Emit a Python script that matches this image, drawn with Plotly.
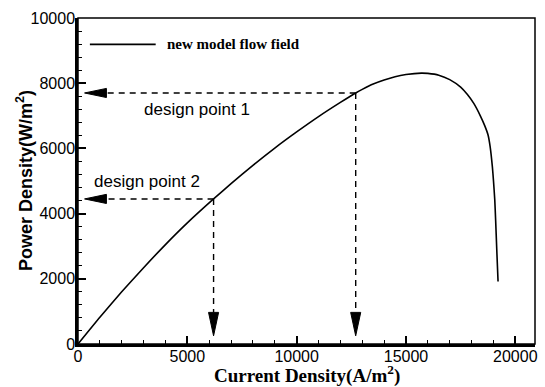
import plotly.graph_objects as go

# Power density curve for the new flow-field model
current_density = [0, 1000, 2000, 3000, 4000, 5000, 6200, 7000, 8000, 9000,
                   10000, 11000, 12000, 12700, 13000, 13500, 14000, 14500,
                   15000, 15700, 16000, 16500, 17000, 17500, 17800, 18100,
                   18400, 18600, 18750, 18850, 18950, 19000, 19060, 19100,
                   19150, 19210]
power_density = [0, 820, 1600, 2340, 3050, 3715, 4450, 4920, 5480, 6010,
                 6505, 6975, 7410, 7700, 7810, 7975, 8100, 8200,
                 8265, 8310, 8300, 8245, 8110, 7880, 7660, 7380,
                 7000, 6700, 6420, 6050, 5440, 5020, 4420, 3800,
                 2920, 1920]

# Operating (design) points marked on the curve
design_labels = ["design point 1", "design point 2"]
design_x = [12700, 6200]
design_y = [7700, 4450]
label_x = [5450, 3150]
label_y = [7180, 4970]

x_ticks = [0, 5000, 10000, 15000, 20000]
y_ticks = [0, 2000, 4000, 6000, 8000, 10000]

X_MAX, Y_MAX = 20900, 10000

# arrowhead geometry (data units)
H_TIP_X, H_LEN, H_HALF = 300, 1000, 140
V_TIP_Y, V_LEN, V_HALF = 250, 720, 230

SANS = "Liberation Sans, Arial, sans-serif"
SERIF = "Liberation Serif, Times New Roman, serif"
DASH = "6px,5px"

fig = go.Figure()

fig.add_trace(go.Scatter(
    x=current_density, y=power_density, mode="lines",
    line=dict(color="black", width=1.6, shape="spline", smoothing=0.5),
    hoverinfo="skip", showlegend=False))

for dx, dy in zip(design_x, design_y):
    # horizontal dashed leader towards the power axis
    fig.add_trace(go.Scatter(
        x=[dx, H_TIP_X + H_LEN], y=[dy, dy], mode="lines",
        line=dict(color="black", width=1.4, dash=DASH),
        hoverinfo="skip", showlegend=False))
    fig.add_trace(go.Scatter(
        x=[H_TIP_X, H_TIP_X + H_LEN, H_TIP_X + H_LEN, H_TIP_X],
        y=[dy, dy + H_HALF, dy - H_HALF, dy], mode="lines",
        fill="toself", fillcolor="black", line=dict(color="black", width=1),
        hoverinfo="skip", showlegend=False))
    # vertical dashed leader towards the current axis
    fig.add_trace(go.Scatter(
        x=[dx, dx], y=[dy, V_TIP_Y + V_LEN], mode="lines",
        line=dict(color="black", width=1.4, dash=DASH),
        hoverinfo="skip", showlegend=False))
    fig.add_trace(go.Scatter(
        x=[dx, dx - V_HALF, dx + V_HALF, dx],
        y=[V_TIP_Y, V_TIP_Y + V_LEN, V_TIP_Y + V_LEN, V_TIP_Y], mode="lines",
        fill="toself", fillcolor="black", line=dict(color="black", width=1),
        hoverinfo="skip", showlegend=False))

for text, lx, ly in zip(design_labels, label_x, label_y):
    fig.add_annotation(x=lx, y=ly, text=text, showarrow=False,
                       font=dict(family=SANS, size=17, color="black"),
                       xanchor="center", yanchor="middle")

# legend entry drawn by hand
fig.add_shape(type="line", xref="paper", yref="paper",
              x0=0.026, x1=0.170, y0=0.919, y1=0.919,
              line=dict(color="black", width=1.6))
fig.add_annotation(xref="paper", yref="paper", x=0.190, y=0.919,
                   text="<b>new model flow field</b>", showarrow=False,
                   xanchor="left", yanchor="middle",
                   font=dict(family=SERIF, size=15, color="black"))

# axis titles
fig.add_annotation(xref="paper", yref="paper", x=0.5, y=0, yshift=-30,
                   text="<b>Current Density(A/m<sup>2</sup>)</b>", showarrow=False,
                   xanchor="center", yanchor="middle",
                   font=dict(family=SERIF, size=19, color="black"))
fig.add_annotation(xref="paper", yref="paper", x=0, y=0.5, xshift=-54,
                   text="<b>Power Density(W/m<sup>2</sup>)</b>", showarrow=False,
                   textangle=-90, xanchor="center", yanchor="middle",
                   font=dict(family=SANS, size=18, color="black"))

# thin frame on top/right
fig.add_shape(type="rect", xref="paper", yref="paper", x0=0, x1=1, y0=0, y1=1,
              line=dict(color="black", width=1.5), layer="above")

axis_common = dict(
    showline=True, linecolor="black", linewidth=2.5, mirror=False,
    showgrid=False, zeroline=False,
    ticks="inside", ticklen=8, tickwidth=1.5, tickcolor="black",
    tickfont=dict(family=SANS, size=16, color="black"),
)

fig.update_xaxes(
    range=[0, X_MAX], tickvals=x_ticks, ticktext=[str(v) for v in x_ticks],
    minor=dict(ticks="inside", ticklen=4, tickwidth=1, tickcolor="black", dtick=1000),
    ticklabelstandoff=-4,
    **axis_common)

fig.update_yaxes(
    range=[0, Y_MAX], tickvals=y_ticks, ticktext=[str(v) for v in y_ticks],
    minor=dict(ticks="inside", ticklen=4, tickwidth=1, tickcolor="black", dtick=400),
    ticklabelstandoff=-3,
    **axis_common)

fig.update_layout(
    width=545, height=387,
    margin=dict(l=78, r=7, t=18, b=43),
    plot_bgcolor="white", paper_bgcolor="white",
    showlegend=False,
)

fig.write_html("out.html")
